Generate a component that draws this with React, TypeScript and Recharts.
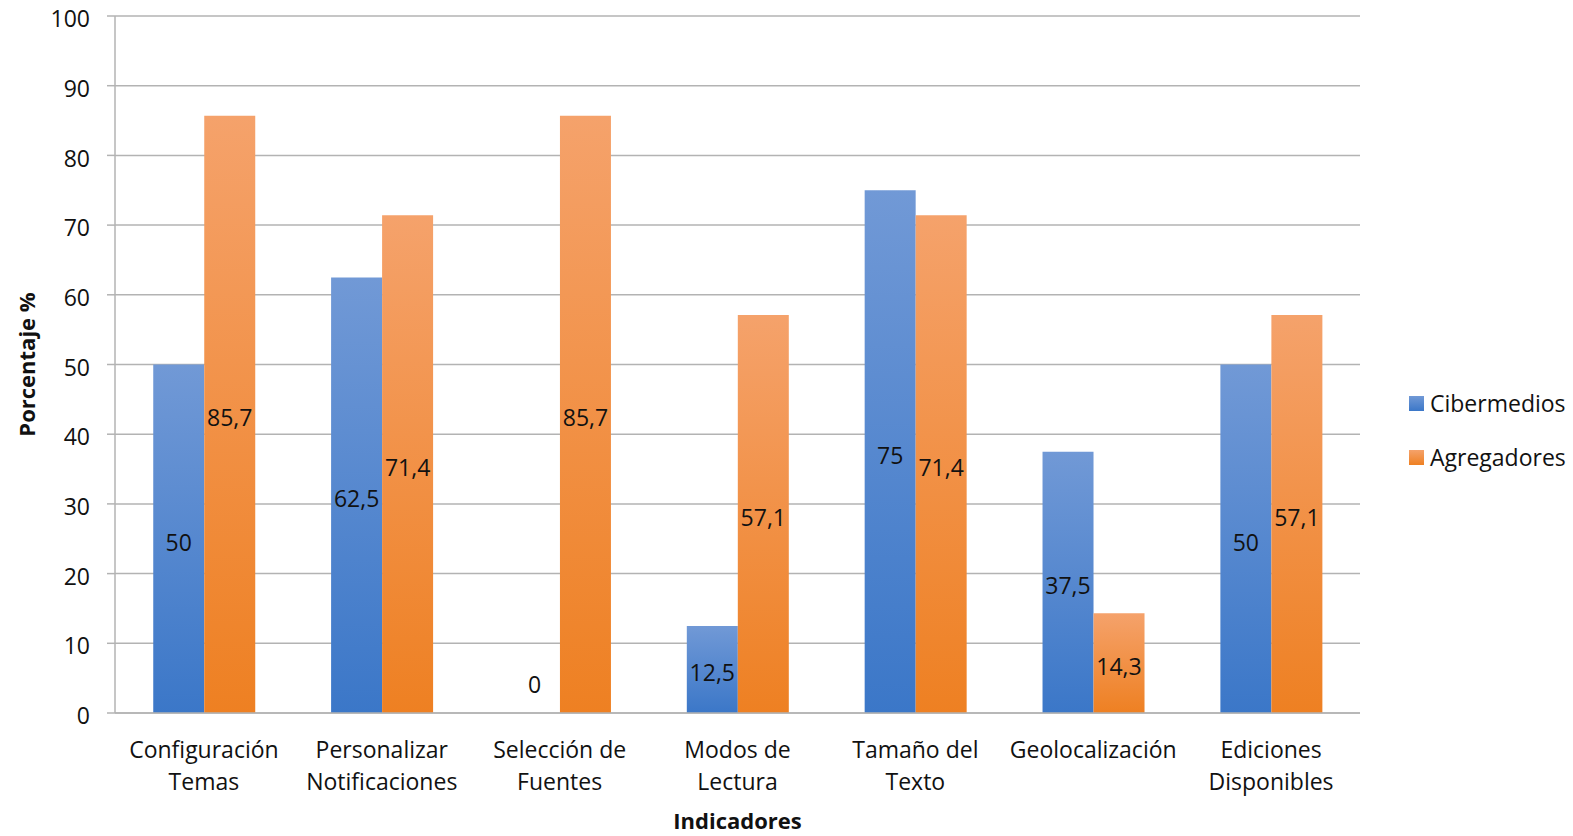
import React from 'react';
import { BarChart, Bar, XAxis, YAxis, CartesianGrid, Legend, LabelList, Rectangle } from 'recharts';

const categories = [
  'Configuración\nTemas',
  'Personalizar\nNotificaciones',
  'Selección de\nFuentes',
  'Modos de\nLectura',
  'Tamaño del\nTexto',
  'Geolocalización',
  'Ediciones\nDisponibles',
];
const cibermedios = [50, 62.5, 0, 12.5, 75, 37.5, 50];
const agregadores = [85.7, 71.4, 85.7, 57.1, 71.4, 14.3, 57.1];
const yTicks = [0, 10, 20, 30, 40, 50, 60, 70, 80, 90, 100];

const data = categories.map((name, i) => ({
  name,
  Cibermedios: cibermedios[i],
  Agregadores: agregadores[i],
}));

const FONT = '"Open Sans", sans-serif';
const FS = 23;

const fmt = (v: number) => String(v).replace('.', ',');

const CategoryTick = (props: any) => {
  const { x, y, payload } = props;
  const lines = String(payload.value).split('\n');
  return (
    <g>
      {lines.map((l, i) => (
        <text
          key={i}
          x={x}
          y={y + 28 + i * 32}
          textAnchor="middle"
          dominantBaseline="central"
          fontSize={FS}
          fontFamily={FONT}
          fill="#111"
        >
          {l}
        </text>
      ))}
    </g>
  );
};

const ValueLabel = (props: any) => {
  const { x, y, width, height, value } = props;
  const h = Number(height) || 0;
  if (Number(value) === 0 || h < 1) return null;
  return (
    <text
      x={Number(x) + Number(width) / 2}
      y={Number(y) + h / 2 + 3}
      textAnchor="middle"
      dominantBaseline="central"
      fontSize={FS}
      fontFamily={FONT}
      fill="#111"
    >
      {fmt(Number(value))}
    </text>
  );
};

// bar shape that also writes the "0" label above the baseline for empty bars
const BarShape = (props: any) => {
  const { x, y, width, height } = props;
  const h = Number(height) || 0;
  if (h < 1) {
    return (
      <text
        x={Number(x) + Number(width) / 2}
        y={Number(y) + h - 29}
        textAnchor="middle"
        dominantBaseline="central"
        fontSize={FS}
        fontFamily={FONT}
        fill="#111"
      >
        0
      </text>
    );
  }
  return <Rectangle {...props} />;
};

const LegendBox = () => (
  <div style={{ fontFamily: FONT, fontSize: FS, color: '#111' }}>
    {[
      { name: 'Cibermedios', a: '#7199d6', b: '#3b77c8' },
      { name: 'Agregadores', a: '#f5a26b', b: '#ee8022' },
    ].map((it, i) => (
      <div key={it.name} style={{ display: 'flex', alignItems: 'center', height: 30, marginBottom: i === 0 ? 24 : 0 }}>
        <span
          style={{
            display: 'inline-block',
            width: 15,
            height: 15,
            marginRight: 6,
            background: `linear-gradient(${it.a}, ${it.b})`,
          }}
        />
        <span>{it.name}</span>
      </div>
    ))}
  </div>
);

export default function App() {
  return (
    <div style={{ position: 'absolute', left: 0, top: 0, width: 1573, height: 836, overflow: 'hidden' }}>
      <BarChart
        width={1573}
        height={836}
        data={data}
        margin={{ top: 16, right: 213, bottom: 13, left: 0 }}
        barCategoryGap="21.5%"
        barGap={0}
      >
        <defs>
          <linearGradient id="gBlue" x1="0" y1="0" x2="0" y2="1">
            <stop offset="0%" stopColor="#7199d6" />
            <stop offset="100%" stopColor="#3b77c8" />
          </linearGradient>
          <linearGradient id="gOrange" x1="0" y1="0" x2="0" y2="1">
            <stop offset="0%" stopColor="#f5a26b" />
            <stop offset="100%" stopColor="#ee8022" />
          </linearGradient>
        </defs>
        <CartesianGrid vertical={false} stroke="#b3b3b3" strokeWidth={1.5} />
        <XAxis
          dataKey="name"
          height={110}
          interval={0}
          tickLine={false}
          axisLine={{ stroke: '#b3b3b3', strokeWidth: 1.5 }}
          tick={<CategoryTick />}
          label={{
            value: 'Indicadores',
            position: 'center',
            dy: 53,
            fontSize: 22,
            fontWeight: 'bold',
            fontFamily: FONT,
            fill: '#111',
          }}
        />
        <YAxis
          width={115}
          domain={[0, 100]}
          ticks={yTicks}
          interval={0}
          tickSize={8}
          tickMargin={17}
          tickLine={{ stroke: '#b3b3b3', strokeWidth: 1.5 }}
          axisLine={{ stroke: '#b3b3b3', strokeWidth: 1.5 }}
          tick={{ fontSize: FS, fontFamily: FONT, fill: '#111', dy: 3 }}
          label={{
            value: 'Porcentaje %',
            angle: -90,
            position: 'center',
            dx: -30,
            fontSize: 22,
            fontWeight: 'bold',
            fontFamily: FONT,
            fill: '#111',
          }}
        />
        <Legend
          layout="vertical"
          align="center"
          verticalAlign="middle"
          content={<LegendBox />}
          wrapperStyle={{ left: 1409, top: 388, width: 164 }}
        />
        <Bar dataKey="Cibermedios" fill="url(#gBlue)" shape={<BarShape />} isAnimationActive={false}>
          <LabelList dataKey="Cibermedios" content={<ValueLabel />} />
        </Bar>
        <Bar dataKey="Agregadores" fill="url(#gOrange)" shape={<BarShape />} isAnimationActive={false}>
          <LabelList dataKey="Agregadores" content={<ValueLabel />} />
        </Bar>
      </BarChart>
    </div>
  );
}
